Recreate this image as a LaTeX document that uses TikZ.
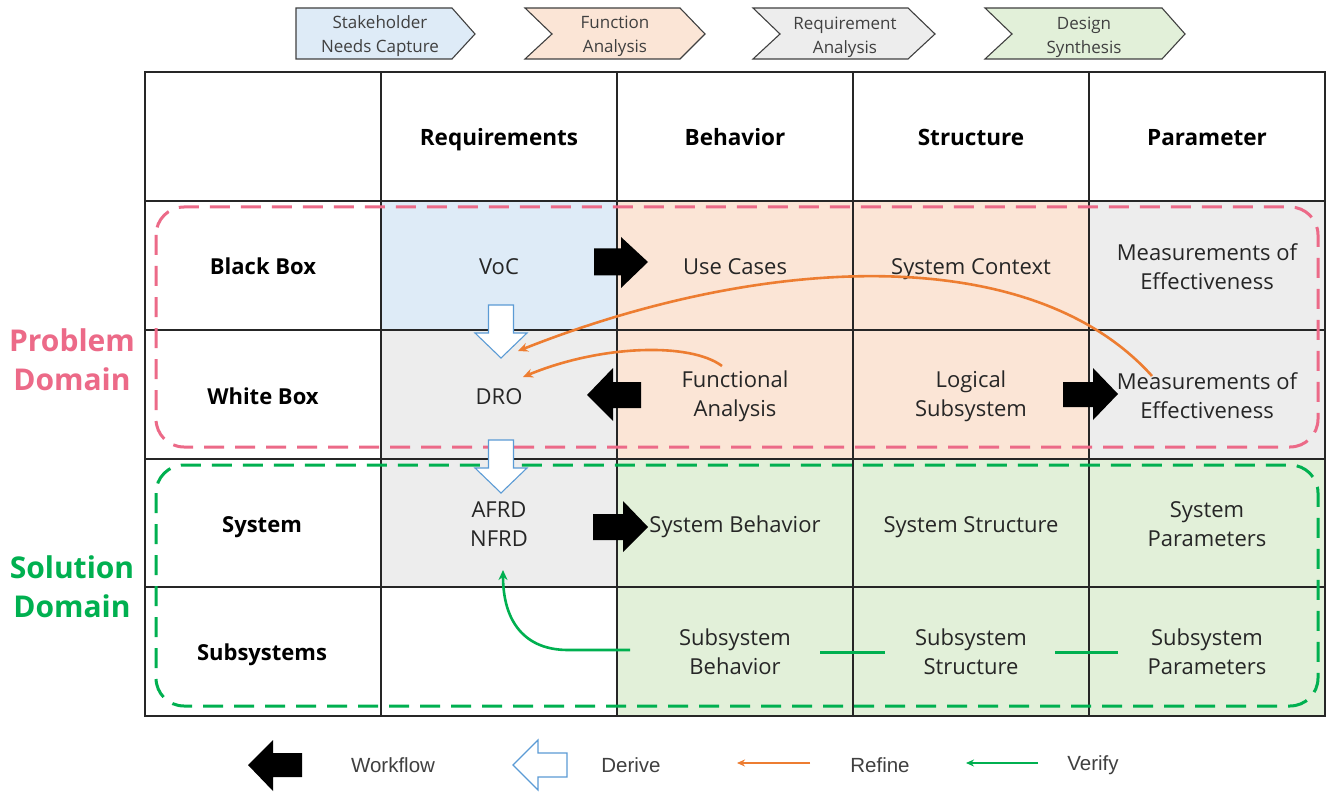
\documentclass[tikz,border=0pt]{standalone}
\usepackage{fontspec}
\setmainfont{Open Sans}
\newfontfamily\legendfont{Liberation Sans}
\usetikzlibrary{arrows.meta}
\definecolor{cblue}{HTML}{DEEBF7}
\definecolor{cpeach}{HTML}{FBE5D6}
\definecolor{cgray}{HTML}{EDEDED}
\definecolor{cgreen}{HTML}{E2F0D9}
\definecolor{pinkd}{HTML}{EC6A88}
\definecolor{greend}{HTML}{00B050}
\definecolor{orangel}{HTML}{ED7D31}
\definecolor{bluel}{HTML}{5B9BD5}
\definecolor{txt}{HTML}{262626}
\definecolor{lgray}{HTML}{404040}
\begin{document}
\begin{tikzpicture}[x=1pt,y=-1pt,
  gridline/.style={draw=black!85,line width=1.2},
  cell/.style={font=\fontsize{22}{29}\selectfont,text=txt,align=center,inner sep=0},
  cellb/.style={cell,anchor=base},
  hdr/.style={font=\fontsize{22.5}{26}\selectfont\bfseries,text=black,align=center,inner sep=0,anchor=base},
  rowlbl/.style={font=\fontsize{22}{26}\selectfont\bfseries,text=black,align=center,inner sep=0,anchor=base},
  dom/.style={font=\fontsize{30}{39}\selectfont\bfseries,align=center,inner sep=0},
  chev/.style={draw=lgray,line width=1.1},
  chevtxt/.style={font=\fontsize{17}{24}\selectfont,text=lgray,align=center,inner sep=0},
  legtxt/.style={font=\legendfont\fontsize{20.5}{24}\selectfont,text=lgray,inner sep=0},
  workflow/.style={fill=black},
  derive/.style={draw=bluel,fill=white,line width=1.1},
  refine/.style={draw=orangel,line width=2.6,-{Stealth[length=10,width=9]}},
  verify/.style={draw=greend,line width=2.6,-{Stealth[length=10,width=9]}},
  domainbox/.style={line width=3,dash pattern=on 20 off 11,rounded corners=28}
]
\useasboundingbox (0,0) rectangle (1330,794);
\fill[white] (0,0) rectangle (1330,794);

% chevrons
\draw[chev,fill=cblue] (296,8) -- (452,8) -- (475,34) -- (452,59) -- (296,59) -- cycle;
\draw[chev,fill=cpeach] (525,8) -- (680,8) -- (705,34) -- (680,59) -- (525,59) -- (552,34) -- cycle;
\draw[chev,fill=cgray] (753,8) -- (908,8) -- (935,34) -- (908,59) -- (753,59) -- (780,34) -- cycle;
\draw[chev,fill=cgreen] (985,8) -- (1162,8) -- (1185,34) -- (1162,59) -- (985,59) -- (1012,34) -- cycle;
\node[chevtxt] (c1) at (380,36) {Stakeholder\\Needs Capture};
\node[chevtxt] (c2) at (615,36.5) {Function\\Analysis};
\node[chevtxt] (c3) at (845,37.5) {Requirement\\Analysis};
\node[chevtxt] (c4) at (1084,37) {Design\\Synthesis};

% cell fills
\fill[cblue] (381,201) rectangle (617,330);
\fill[cgray] (381,330) rectangle (617,587);
\fill[cpeach] (617,201) rectangle (1089,459);
\fill[cgray] (1089,201) rectangle (1325,459);
\fill[cgreen] (617,459) rectangle (1325,716);

% grid
\draw[gridline] (145,72) rectangle (1325,716);
\foreach \x in {381,617,853,1089} \draw[gridline] (\x,72) -- (\x,716);
\foreach \y in {201,330,459,587} \draw[gridline] (145,\y) -- (1325,\y);

% headers
\node[hdr] (hreq) at (499,146) {Requirements};
\node[hdr] (hbeh) at (735,146) {Behavior};
\node[hdr] (hstr) at (971,146) {Structure};
\node[hdr] (hpar) at (1207,146) {Parameter};
\node[rowlbl] (rbb) at (263,275) {Black Box};
\node[rowlbl] (rwb) at (263,404) {White Box};
\node[rowlbl] (rsys) at (262,532) {System};
\node[rowlbl] (rsub) at (262,660) {Subsystems};

% cells
\node[cellb] (voc) at (499,275) {VoC};
\node[cellb] (uc) at (735,275) {Use Cases};
\node[cellb] (sc) at (971,275) {System Context};
\node[cell] (moe1) at (1207,267) {Measurements of\\Effectiveness};
\node[cellb] (dro) at (499,404) {DRO};
\node[cell] (fa) at (735,396) {Functional\\Analysis};
\node[cell] (ls) at (971,396) {Logical\\Subsystem};
\node[cell] (moe2) at (1207,396) {Measurements of\\Effectiveness};
\node[cell] (afrd) at (499,524) {AFRD\\NFRD};
\node[cellb] (sb) at (735,532) {System Behavior};
\node[cellb] (ss) at (971,532) {System Structure};
\node[cell] (sp) at (1207,524) {System\\Parameters};
\node[cell] (subb) at (735,652) {Subsystem\\Behavior};
\node[cell] (subs) at (971,652) {Subsystem\\Structure};
\node[cell] (subp) at (1207,652) {Subsystem\\Parameters};

% domain boxes
\draw[domainbox,draw=pinkd] (156,207) rectangle (1318,447);
\draw[domainbox,draw=greend] (156,465) rectangle (1318,706);
\node[dom,text=pinkd] (pd) at (72,360) {Problem\\Domain};
\node[dom,text=greend] (sd) at (72,587) {Solution\\Domain};

% workflow arrows
\fill[workflow] (594,248.5) -- (621,248.5) -- (621,237) -- (648,262) -- (621,288) -- (621,275.5) -- (594,275.5) -- cycle;
\fill[workflow] (641,382) -- (613,382) -- (613,368) -- (587,395) -- (613,421) -- (613,408) -- (641,408) -- cycle;
\fill[workflow] (1063,382) -- (1093,382) -- (1093,368) -- (1118,394) -- (1093,420) -- (1093,407) -- (1063,407) -- cycle;
\fill[workflow] (593,514) -- (623,514) -- (623,501) -- (648,527) -- (623,552) -- (623,540) -- (593,540) -- cycle;

% derive arrows
\draw[derive] (488.5,305) -- (513.5,305) -- (513.5,333) -- (527,333) -- (501,358) -- (475,333) -- (488.5,333) -- cycle;
\draw[derive] (488.5,440) -- (513.5,440) -- (513.5,468) -- (527,468) -- (501,493) -- (475,468) -- (488.5,468) -- cycle;

% refine
\coordinate (r1s) at (1152,376);
\coordinate (r1e) at (518,351);
\coordinate (r2s) at (722,366);
\coordinate (r2e) at (523,377);
\draw[refine] (r1s) .. controls (1030,240) and (760,255) .. (r1e);
\draw[refine] (r2s) .. controls (690,342) and (600,345) .. (r2e);

% verify
\coordinate (vs) at (630,650);
\coordinate (ve) at (503,570);
\draw[verify] (vs) -- (568,650) .. controls (525,650) and (503,622) .. (ve);

% subsystem links
\draw[greend,line width=3] (820,652) -- (885,652);
\draw[greend,line width=3] (1055,652) -- (1118,652);

% legend
\fill[workflow] (302,753) -- (273,753) -- (273,740) -- (248,765) -- (273,791) -- (273,777) -- (302,777) -- cycle;
\node[legtxt] (lw) at (393,765) {Workflow};
\draw[derive] (567,753) -- (538,753) -- (538,740) -- (513,765) -- (538,790) -- (538,777) -- (567,777) -- cycle;
\node[legtxt] (ld) at (631,765) {Derive};
\coordinate (lrs) at (810,763);
\coordinate (lre) at (737,763);
\draw[draw=orangel,line width=2,-{Stealth[length=8,width=7]}] (lrs) -- (lre);
\node[legtxt] (lr) at (880,765) {Refine};
\coordinate (lvs) at (1038,763);
\coordinate (lve) at (966,763);
\draw[draw=greend,line width=2,-{Stealth[length=8,width=7]}] (lvs) -- (lve);
\node[legtxt] (lv) at (1093,765) {Verify};
\end{tikzpicture}
\end{document}
